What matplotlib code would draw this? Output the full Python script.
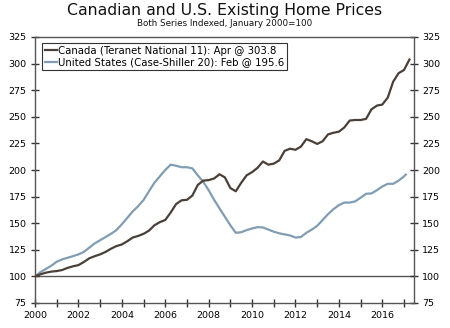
import matplotlib
matplotlib.use("Agg")
import matplotlib.pyplot as plt
from matplotlib.ticker import MultipleLocator

# Quarterly readings (decimal year)
canada_t = [2000.00, 2000.25, 2000.50, 2000.75, 2001.00, 2001.25, 2001.50, 2001.75,
            2002.00, 2002.25, 2002.50, 2002.75, 2003.00, 2003.25, 2003.50, 2003.75,
            2004.00, 2004.25, 2004.50, 2004.75, 2005.00, 2005.25, 2005.50, 2005.75,
            2006.00, 2006.25, 2006.50, 2006.75, 2007.00, 2007.25, 2007.50, 2007.75,
            2008.00, 2008.25, 2008.50, 2008.75, 2009.00, 2009.25, 2009.50, 2009.75,
            2010.00, 2010.25, 2010.50, 2010.75, 2011.00, 2011.25, 2011.50, 2011.75,
            2012.00, 2012.25, 2012.50, 2012.75, 2013.00, 2013.25, 2013.50, 2013.75,
            2014.00, 2014.25, 2014.50, 2014.75, 2015.00, 2015.25, 2015.50, 2015.75,
            2016.00, 2016.25, 2016.50, 2016.75, 2017.00, 2017.25]
canada_v = [100, 102, 103.5, 104.5, 105, 106, 108, 109.5,
            110.6, 113.5, 117, 119, 120.7, 123, 126, 128.5,
            130, 133, 136.5, 138, 140, 143, 148, 151,
            153, 160, 168, 171.5, 172, 176, 186, 190,
            190.5, 192, 196, 193, 183, 180, 188, 195,
            198, 202, 208, 205, 206, 209, 218, 220,
            219, 222, 229, 227, 224.5, 227, 233.5, 235,
            236, 240, 246.5, 247, 247, 248, 257, 260.5,
            261.5, 268, 283, 291, 294, 303.8]

us_t = [2000.00, 2000.25, 2000.50, 2000.75, 2001.00, 2001.25, 2001.50, 2001.75,
        2002.00, 2002.25, 2002.50, 2002.75, 2003.00, 2003.25, 2003.50, 2003.75,
        2004.00, 2004.25, 2004.50, 2004.75, 2005.00, 2005.25, 2005.50, 2005.75,
        2006.00, 2006.25, 2006.50, 2006.75, 2007.00, 2007.25, 2007.50, 2007.75,
        2008.00, 2008.25, 2008.50, 2008.75, 2009.00, 2009.25, 2009.50, 2009.75,
        2010.00, 2010.25, 2010.50, 2010.75, 2011.00, 2011.25, 2011.50, 2011.75,
        2012.00, 2012.25, 2012.50, 2012.75, 2013.00, 2013.25, 2013.50, 2013.75,
        2014.00, 2014.25, 2014.50, 2014.75, 2015.00, 2015.25, 2015.50, 2015.75,
        2016.00, 2016.25, 2016.50, 2016.75, 2017.00, 2017.083]
us_v = [100, 104, 107, 110, 113.8, 116, 117.5, 119,
        120.7, 123, 127, 131, 134, 137, 140, 143.5,
        149, 155, 161, 166, 171.8, 180, 188, 194,
        200, 205, 204, 202.6, 202.6, 201.5, 195, 189,
        181, 172, 164, 156, 148, 141, 141.5, 143.5,
        145, 146.3, 146, 144, 142, 140.5, 139.5, 138.5,
        136.5, 137, 141, 144, 147.5, 153, 158.5, 163.2,
        167, 169.4, 169.4, 170.5, 174, 177.6, 178, 181,
        184.5, 187, 187, 190, 194, 195.6]

canada_label = "Canada (Teranet National 11): Apr @ 303.8"
us_label = "United States (Case-Shiller 20): Feb @ 195.6"
title = "Canadian and U.S. Existing Home Prices"
subtitle = "Both Series Indexed, January 2000=100"

fig = plt.figure(figsize=(4.5, 3.28), dpi=100)
ax = fig.add_axes([35/450, 25/328, (414-35)/450, (303-37)/328])

ax.axhline(100, color="#555555", lw=1.0, zorder=1)
ax.plot(canada_t, canada_v, color="#4b4037", lw=1.6, label=canada_label, zorder=3,
        solid_joinstyle="round")
ax.plot(us_t, us_v, color="#819db3", lw=1.6, label=us_label, zorder=2,
        solid_joinstyle="round")

ax.set_xlim(2000, 2017.46)
ax.set_ylim(75, 325)
ax.yaxis.set_major_locator(MultipleLocator(25))
ax.xaxis.set_major_locator(MultipleLocator(2))
ax.xaxis.set_minor_locator(MultipleLocator(1))
ax.xaxis.set_major_formatter(matplotlib.ticker.FuncFormatter(lambda v, p: f"{int(round(v))}"))

for s in ax.spines.values():
    s.set_color("#555555")
    s.set_linewidth(1.0)

ax.tick_params(axis="y", which="both", direction="inout", length=6, width=1,
               color="#333333", labelsize=6.8, left=True, right=True,
               labelleft=True, labelright=True, pad=3)
ax.tick_params(axis="x", which="both", direction="inout", length=6, width=1,
               color="#333333", labelsize=6.8, pad=3)

leg = ax.legend(loc="upper left", bbox_to_anchor=(7/379, 1 - 6/266), fontsize=7.3,
                handlelength=1.2, handletextpad=0.1, borderpad=0.25,
                labelspacing=0.15, fancybox=False, framealpha=1, borderaxespad=0)
leg.get_frame().set_edgecolor("#333333")
leg.get_frame().set_linewidth(0.8)

fig.text(0.5, 1 - 11/328, title, ha="center", va="center", fontsize=11.3, color="#111111")
fig.text(0.5, 1 - 24/328, subtitle, ha="center", va="center", fontsize=6.3, color="#111111")

fig.savefig("out.png", dpi=100)
